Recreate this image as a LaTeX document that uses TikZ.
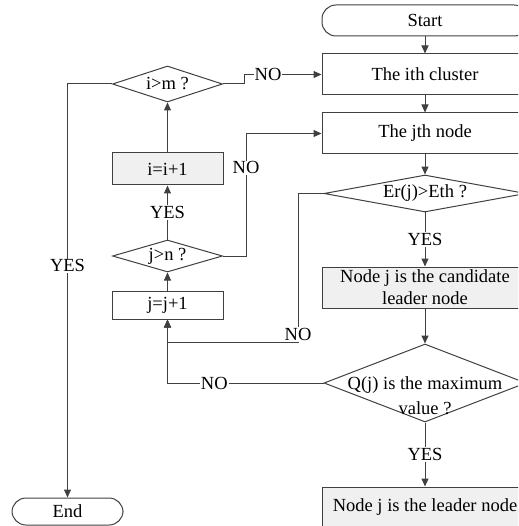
\documentclass[tikz,border=0pt]{standalone}
\usepackage{fontspec}
\setmainfont{Liberation Serif}
\usetikzlibrary{shapes.geometric,arrows.meta}
\definecolor{ln}{HTML}{404040}
\definecolor{gfill}{HTML}{F0F0F0}
\begin{document}
\begin{tikzpicture}[x=1pt,y=-1pt,
  every node/.style={font=\fontsize{18.5}{22}\selectfont, text=black},
  box/.style={draw=ln, line width=1pt, rectangle, minimum width=206pt, minimum height=41pt, inner sep=0pt},
  gbox/.style={box, fill=gfill},
  term/.style={box, rounded corners=14pt},
  dia/.style={draw=ln, line width=1pt, diamond, inner sep=0pt},
  txt/.style={inner sep=0pt},
  arr/.style={draw=ln, line width=1pt, -{Triangle[length=8pt,width=7pt]}},
  lbl/.style={fill=white, inner sep=1pt}
]
\useasboundingbox (0,0) rectangle (518,526);
\clip (0,0) rectangle (518,526);
% right column
\node[term, minimum height=31pt] (start) at (425,20.5) {Start};
\node[box] (ith) at (425,74.5) {The ith cluster};
\node[box] (jth) at (425,133.5) {The jth node};
\node[dia, minimum width=202pt, minimum height=37pt] (er) at (425,193.5) {};
\node[txt] (ert) at (er) {Er(j)>Eth ?};
\node[gbox, align=center] (cand) at (425,287.5) {Node j is the candidate\\leader node};
\node[dia, minimum width=202pt, minimum height=78pt] (q) at (425,383) {};
\node[txt, align=center, font=\fontsize{18.5}{25}\selectfont] (qt) at (425,396) {Q(j) is the maximum\\value ?};
\node[gbox] (lead) at (425,507.5) {Node j is the leader node};
% left column
\node[dia, minimum width=110pt, minimum height=36pt] (im) at (167.5,84) {};
\node[txt] (imt) at (im) {i>m ?};
\node[gbox, minimum width=111pt, minimum height=32pt] (ii) at (167.5,169) {i=i+1};
\node[dia, minimum width=110pt, minimum height=32pt] (jn) at (167.5,256) {};
\node[txt] (jnt) at (jn) {j>n ?};
\node[box, minimum width=111pt, minimum height=28pt] (jj) at (167.5,305) {j=j+1};
\node[term, minimum width=111pt, minimum height=27pt] (end) at (67.5,511.5) {End};
% coordinates
\coordinate (c1) at (298,193.5);
\coordinate (c2) at (298,342);
\coordinate (c3) at (246,256);
\coordinate (c4) at (246,133.5);
\coordinate (c5) at (244,84);
\coordinate (c6) at (244,74.5);
% connectors
\draw[arr] (start) -- (ith);
\draw[arr] (ith) -- (jth);
\draw[arr] (jth) -- (er);
\draw[arr] (er) -- node[lbl]{YES} (cand);
\draw[arr] (cand) -- (q);
\draw[arr] (q) -- node[lbl]{YES} (lead);
\draw[arr] (q.west) -| node[lbl,pos=0.35]{NO} (jj.south);
\draw[arr] (er.west) -- (c1) -- node[lbl,pos=0.95]{NO} (c2) -| (jj.south);
\draw[arr] (jn.east) -- (c3) -- node[lbl,pos=0.72]{NO} (c4) -- (jth.west);
\draw[arr] (jj) -- (jn);
\draw[arr] (jn) -- node[lbl]{YES} (ii);
\draw[arr] (ii) -- (im);
\draw[arr] (im.east) -- (c5) -- (c6) -- node[lbl,pos=0.31]{NO} (ith.west);
\draw[arr] (im.west) -| node[lbl,pos=0.72]{YES} (end.north);
\end{tikzpicture}
\end{document}
